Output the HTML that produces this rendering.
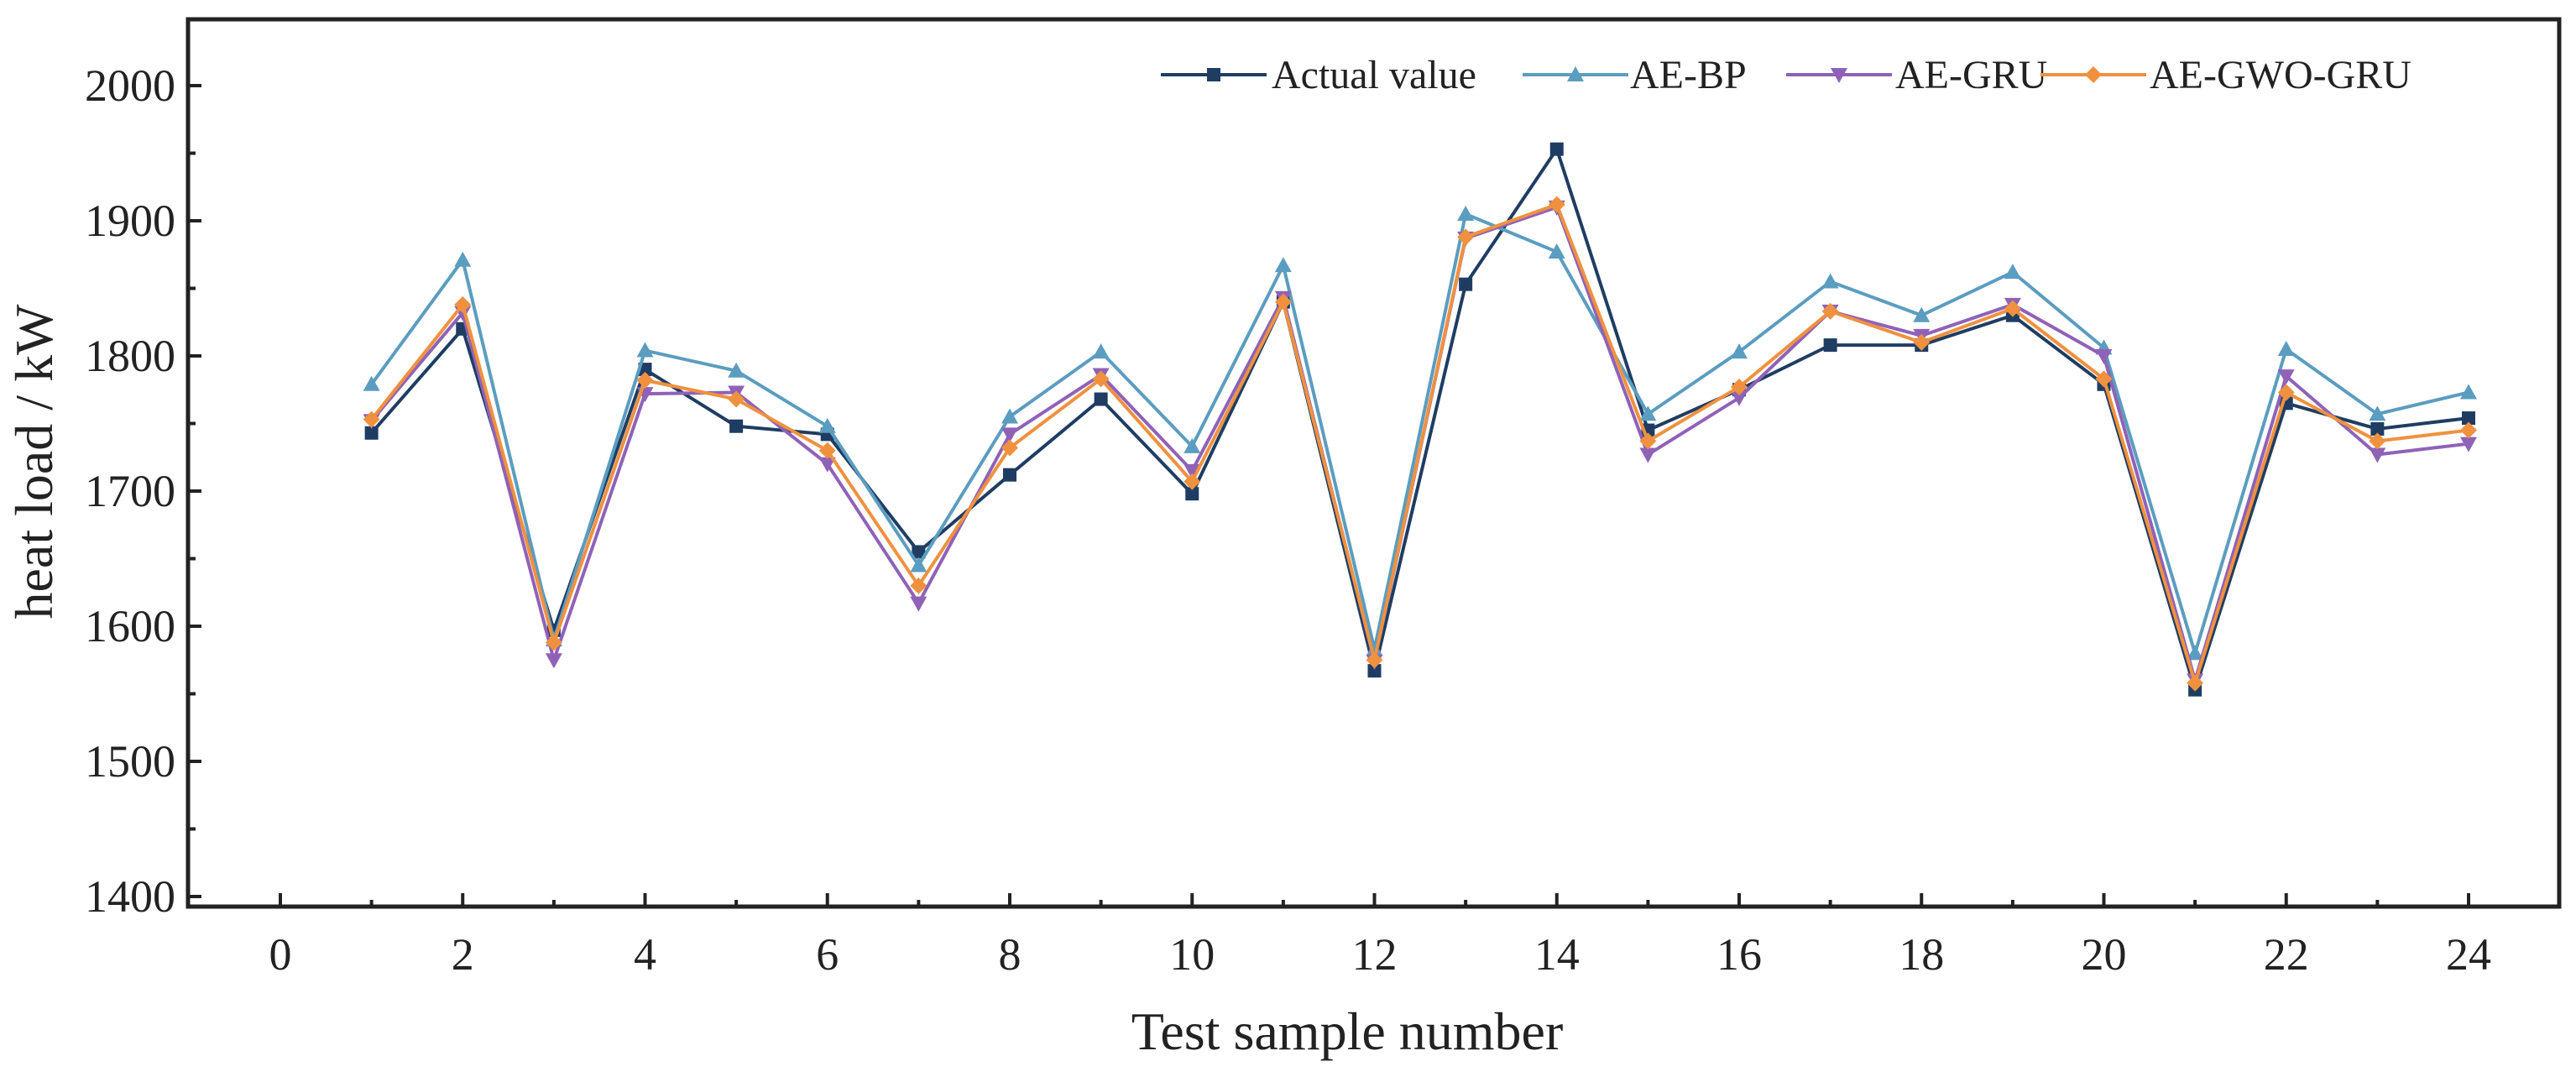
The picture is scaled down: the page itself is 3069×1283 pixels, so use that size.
<!DOCTYPE html>
<html><head><meta charset="utf-8"><style>
html,body{margin:0;padding:0;background:#fff}
svg{display:block}
text{font-family:"Liberation Serif",serif;fill:#222}
</style></head><body>
<svg id="chart" width="3069" height="1283" viewBox="0 0 3069 1283" xmlns="http://www.w3.org/2000/svg">
<rect x="0" y="0" width="3069" height="1283" fill="#fff"/>
<g id="axes"></g>
<g id="series"></g>
<g id="legend"></g>
</svg>
<script>
const samples = [1,2,3,4,5,6,7,8,9,10,11,12,13,14,15,16,17,18,19,20,21,22,23,24];
const actualValues = [1743,1820,1597,1790,1748,1742,1655,1712,1768,1698,1840,1567,1853,1953,1745,1775,1808,1808,1830,1779,1553,1765,1746,1754];
const aeBpValues = [1779,1871,1590,1804,1789,1748,1645,1755,1803,1733,1867,1583,1905,1877,1757,1803,1855,1830,1862,1806,1580,1805,1757,1773];
const aeGruValues = [1752,1832,1575,1772,1773,1720,1617,1742,1786,1715,1843,1574,1887,1910,1727,1769,1833,1815,1838,1800,1560,1785,1727,1735];
const aeGwoGruValues = [1753,1838,1588,1782,1768,1730,1630,1732,1783,1707,1840,1575,1888,1912,1737,1777,1833,1810,1835,1783,1558,1773,1737,1745];
const xTickLabels = [0,2,4,6,8,10,12,14,16,18,20,22,24];
const yTickLabels = [1400,1500,1600,1700,1800,1900,2000];

const NS = "http://www.w3.org/2000/svg";
const L = 224, R = 3049, T = 23, B = 1080;
function xs(v){ return 334 + v * (2941 - 334) / 24; }
function ys(v){ return 1068 - (v - 1400) * (1068 - 102) / 600; }
function mk(tag, attrs, parent){ const e = document.createElementNS(NS, tag); for (const k in attrs) e.setAttribute(k, attrs[k]); parent.appendChild(e); return e; }

const axes = document.getElementById('axes');
const frame = mk('rect', {x:L, y:T, width:R-L, height:B-T, fill:'none', stroke:'#222', 'stroke-width':5}, axes);



for (let v = 1400; v <= 2000; v += 50) {
  const major = v % 100 === 0;
  const t = mk('line', {x1:L, x2:L + (major ? 16 : 9), y1:ys(v), y2:ys(v), stroke:'#222', 'stroke-width':4}, axes);
  
  
}
yTickLabels.forEach(v => {
  const t = mk('text', {x:209, y:ys(v) + 18, 'text-anchor':'end', 'font-size':54}, axes);
  t.textContent = v;
  
  
});
for (let v = 0; v <= 24; v++) {
  const major = v % 2 === 0;
  const t = mk('line', {x1:xs(v), x2:xs(v), y1:B, y2:B - (major ? 16 : 8), stroke:'#222', 'stroke-width':4}, axes);
  
  
}
xTickLabels.forEach(v => {
  const t = mk('text', {x:xs(v), y:1155, 'text-anchor':'middle', 'font-size':54}, axes);
  t.textContent = v;
  
  
});
const xt = mk('text', {x:1605, y:1250, 'text-anchor':'middle', 'font-size':64}, axes);
xt.textContent = 'Test sample number';


const yt = mk('text', {x:0, y:0, 'text-anchor':'middle', 'font-size':64, transform:'translate(62,550) rotate(-90)'}, axes);
yt.textContent = 'heat load / kW';



function marker(type, x, y, color, parent){
  let e;
  if (type === 'square') e = mk('rect', {x:x-8, y:y-8, width:16, height:16, fill:color}, parent);
  else if (type === 'up') e = mk('polygon', {points:`${x},${y-10} ${x-10},${y+8} ${x+10},${y+8}`, fill:color}, parent);
  else if (type === 'down') e = mk('polygon', {points:`${x},${y+10} ${x-10},${y-8} ${x+10},${y-8}`, fill:color}, parent);
  else e = mk('polygon', {points:`${x},${y-10} ${x+10},${y} ${x},${y+10} ${x-10},${y}`, fill:color}, parent);
  return e;
}

const seriesDefs = [
  {name:'Actual value', key:'actual', vals:actualValues, color:'#1f3d63', m:'square', lx:1383, tx:1515},
  {name:'AE-BP', key:'ae-bp', vals:aeBpValues, color:'#5b9dc0', m:'up', lx:1814, tx:1942},
  {name:'AE-GRU', key:'ae-gru', vals:aeGruValues, color:'#8f62b8', m:'down', lx:2128, tx:2258},
  {name:'AE-GWO-GRU', key:'ae-gwo-gru', vals:aeGwoGruValues, color:'#f0913f', m:'diamond', lx:2431, tx:2561}
];
const sg = document.getElementById('series');
const lg = document.getElementById('legend');
seriesDefs.forEach(s => {
  const g = mk('g', {}, sg);
  
  
  const pts = samples.map((x, i) => xs(x) + ',' + ys(s.vals[i])).join(' ');
  const pl = mk('polyline', {points:pts, fill:'none', stroke:s.color, 'stroke-width':4, 'stroke-linejoin':'miter'}, g);
  
  
  samples.forEach((x, i) => {
    const p = marker(s.m, xs(x), ys(s.vals[i]), s.color, g);
    
    
  });
  const le = mk('g', {}, lg);
  
  
  mk('line', {x1:s.lx, x2:s.lx + 126, y1:89, y2:89, stroke:s.color, 'stroke-width':4}, le);
  marker(s.m, s.lx + 63, 89, s.color, le);
  const t = mk('text', {x:s.tx, y:105, 'font-size':48}, le);
  t.textContent = s.name;
});
</script>
</body></html>
